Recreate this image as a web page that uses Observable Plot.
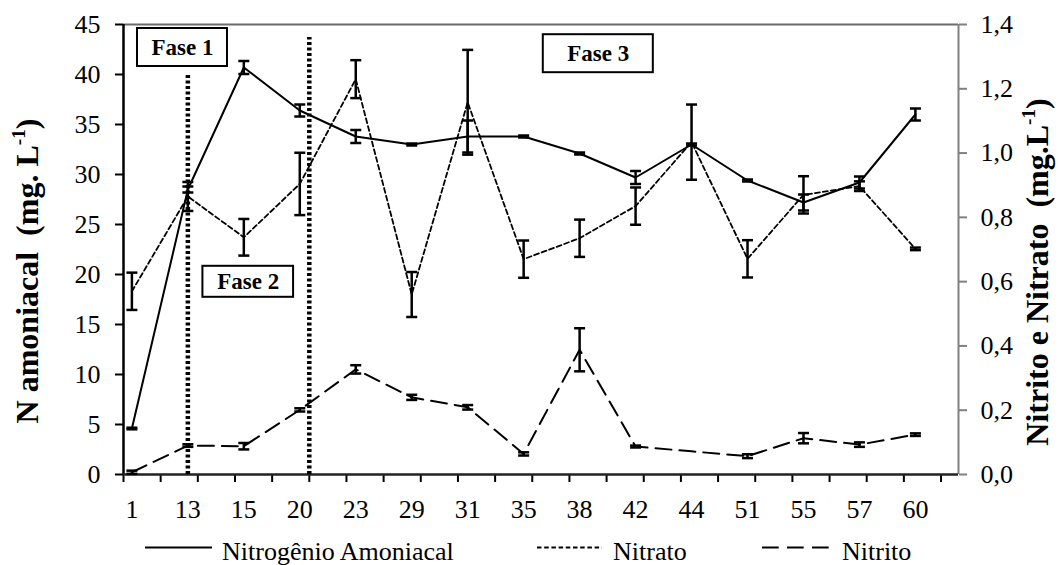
<!DOCTYPE html>
<html>
<head>
<meta charset="utf-8">
<script src="https://cdn.jsdelivr.net/npm/d3@7"></script>
<script src="https://cdn.jsdelivr.net/npm/@observablehq/plot@0.6"></script>
<style>
  html, body { margin: 0; padding: 0; background: #fff; }
  #wrap { position: relative; width: 1058px; height: 565px; font-family: "Liberation Serif"; color: #000; }
  .ytitle { position: absolute; font-family: "Liberation Serif"; font-weight: bold; font-size: 32px; line-height: 32px; white-space: nowrap;
            transform: translate(-50%, -50%) rotate(-90deg); }
  .ytitle sup { font-size: 0.6em; line-height: 0; vertical-align: 0.7em; }
  svg { display: block; }
</style>
</head>
<body>
<div id="wrap"></div>
<script>
// ---- data ----
const days = ["1","13","15","20","23","29","31","35","38","42","44","51","55","57","60"];
const ammonia    = [4.6, 28.5, 40.7, 36.4, 33.8, 33.0, 33.8, 33.8, 32.1, 29.7, 33.0, 29.4, 27.2, 29.2, 36.0];
const ammoniaErr = [0.08, 0.3, 0.65, 0.6, 0.65, 0.1, 1.6, 0.1, 0.1, 0.65, 0.1, 0.1, 0.8, 0.6, 0.6];
const nitrate    = [0.57, 0.865, 0.738, 0.904, 1.23, 0.56, 1.158, 0.67, 0.735, 0.835, 1.034, 0.671, 0.87, 0.897, 0.702];
const nitrateErr = [0.058, 0.045, 0.057, 0.097, 0.059, 0.07, 0.163, 0.058, 0.058, 0.058, 0.117, 0.058, 0.058, 0.015, 0.004];
const nitrite    = [0.007, 0.09, 0.088, 0.201, 0.327, 0.24, 0.209, 0.064, 0.388, 0.087, 0.072, 0.057, 0.113, 0.093, 0.124];
const nitriteErr = [0.005, 0.004, 0.01, 0.005, 0.013, 0.008, 0.007, 0.005, 0.067, 0.003, 0, 0.006, 0.016, 0.007, 0.004];

const leftTicks  = [0, 5, 10, 15, 20, 25, 30, 35, 40, 45];
const rightTicks = [0, 0.2, 0.4, 0.6, 0.8, 1.0, 1.2, 1.4];
const rightMax = 1.4, leftMax = 45;

// phase separators (in sample-index units) and annotation boxes
const phaseLineX   = [1, 3.17];
const phaseLineTop = [40.1, 43.7];
const phaseNames = ["Fase 1", "Fase 2", "Fase 3"];
const phaseCX    = [0.904, 2.079, 8.334];
const phaseCY    = [42.7, 19.27, 42.08];
const phaseHalfW = [0.804, 0.81, 0.983];
const phaseHalfH = [1.9, 1.55, 1.9];

// ---- derived ----
const FONT = '"Liberation Serif"';
const K = leftMax / rightMax;            // right-axis value -> left-axis units
const toLeft = v => v * K;
const idx = d3.range(days.length);
const xDomain = [-0.15, 14.77];
const xTickPos = d3.range(23).map(k => xDomain[0] + k * 0.664);

function errRows(vals, errs, conv) {
  return idx.filter(i => errs[i] > 0).map(i => ({i, lo: conv(vals[i] - errs[i]), hi: conv(vals[i] + errs[i])}));
}
const ident = v => v;
const errs = [
  ...errRows(ammonia, ammoniaErr, ident),
  ...errRows(nitrate, nitrateErr, toLeft),
  ...errRows(nitrite, nitriteErr, toLeft)
];
const cap = { draw(ctx) { ctx.moveTo(-5.5, 0); ctx.lineTo(5.5, 0); } };

const phases = phaseNames.map((name, k) => ({
  name, cx: phaseCX[k], cy: phaseCY[k],
  x1: phaseCX[k] - phaseHalfW[k], x2: phaseCX[k] + phaseHalfW[k],
  y1: phaseCY[k] - phaseHalfH[k], y2: phaseCY[k] + phaseHalfH[k]
}));

const chart = Plot.plot({
  width: 1058, height: 520,
  marginLeft: 123, marginRight: 100, marginTop: 24, marginBottom: 46,
  x: {domain: xDomain},
  y: {domain: [0, leftMax]},
  style: {fontFamily: FONT, fontSize: "26px", color: "black", background: "white", overflow: "visible"},
  marks: [
    // axes
    Plot.axisY({ticks: leftTicks, tickSize: 8, tickPadding: 15, label: null, strokeWidth: 2, fontSize: 26}),
    Plot.axisY({anchor: "right", ticks: rightTicks.map(v => Math.round(toLeft(v) * 1e9) / 1e9),
      tickFormat: d => (d / K).toFixed(1).replace(".", ","), tickSize: 8, tickPadding: 14,
      label: null, stroke: "#808080", strokeWidth: 2, fontSize: 26}),
    Plot.axisX({ticks: xTickPos, tickSize: 8, tickFormat: () => "", label: null, strokeWidth: 2}),
    Plot.axisX({ticks: idx, tickSize: 0, tickPadding: 25, tickFormat: i => days[i], label: null, fontSize: 26}),
    // frame
    Plot.ruleY([leftMax], {stroke: "#6b6b6b", strokeWidth: 2}),
    Plot.ruleX([xDomain[1]], {stroke: "#808080", strokeWidth: 2}),
    Plot.ruleX([xDomain[0]], {stroke: "black", strokeWidth: 2.5}),
    Plot.ruleY([0], {stroke: "#222", strokeWidth: 2.5}),
    // series
    Plot.line(idx, {x: i => i, y: i => ammonia[i], stroke: "black", strokeWidth: 2}),
    Plot.line(idx, {x: i => i, y: i => toLeft(nitrate[i]), stroke: "black", strokeWidth: 1.8, strokeDasharray: "5,3"}),
    Plot.line(idx, {x: i => i, y: i => toLeft(nitrite[i]), stroke: "black", strokeWidth: 2, strokeDasharray: "16,8"}),
    // error bars
    Plot.ruleX(errs, {x: "i", y1: "lo", y2: "hi", stroke: "black", strokeWidth: 2.5}),
    Plot.dot(errs, {x: "i", y: "lo", symbol: cap, r: 3, stroke: "black", strokeWidth: 2.5, fill: "none"}),
    Plot.dot(errs, {x: "i", y: "hi", symbol: cap, r: 3, stroke: "black", strokeWidth: 2.5, fill: "none"}),
    // phase separators
    Plot.ruleX([0, 1], {x: k => phaseLineX[k], y1: 0, y2: k => phaseLineTop[k], stroke: "black", strokeWidth: 4.5, strokeDasharray: "3,2.5"}),
    // phase boxes
    Plot.rect(phases, {x1: "x1", x2: "x2", y1: "y1", y2: "y2", fill: "white", stroke: "black", strokeWidth: 2}),
    Plot.text(phases, {x: "cx", y: "cy", text: "name", fontWeight: "bold", fontSize: 23})
  ]
});

const wrap = document.getElementById("wrap");
wrap.appendChild(chart);

// legend below the chart
const legendItems = [
  {name: "Nitrogênio Amoniacal", x1: 145, x2: 212, tx: 222, dash: null},
  {name: "Nitrato", x1: 537, x2: 602, tx: 613, dash: "4.5,2.7"},
  {name: "Nitrito", x1: 762, x2: 837, tx: 842, dash: "16.7,8.3"}
];
const leg = d3.create("svg").attr("width", 1058).attr("height", 45)
  .style("font-family", FONT);
for (const it of legendItems) {
  leg.append("line").attr("x1", it.x1).attr("x2", it.x2).attr("y1", 27.5).attr("y2", 27.5)
    .attr("stroke", "black").attr("stroke-width", 2).attr("stroke-dasharray", it.dash);
  leg.append("text").attr("x", it.tx).attr("y", 39.5).attr("font-size", 26).text(it.name);
}
wrap.appendChild(leg.node());

// axis titles
const lt = document.createElement("div");
lt.className = "ytitle";
lt.style.left = "27px"; lt.style.top = "271px";
lt.innerHTML = "N amoniacal&nbsp; (mg. L<sup>-1</sup>)";
wrap.appendChild(lt);
const rt = document.createElement("div");
rt.className = "ytitle";
rt.style.left = "1037px"; rt.style.top = "272px";
rt.innerHTML = "Nitrito e Nitrato&nbsp; (mg.L<sup>-1</sup>)";
wrap.appendChild(rt);
</script>
</body>
</html>
